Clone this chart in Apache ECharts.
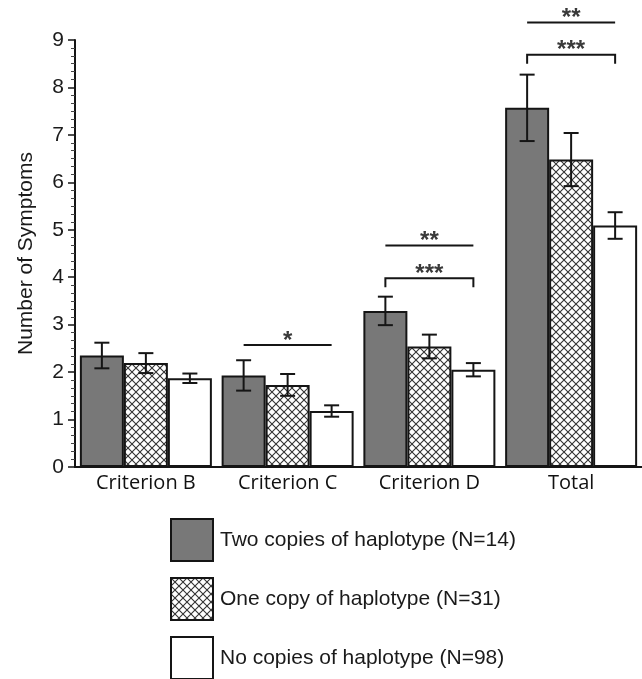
<!DOCTYPE html>
<html>
<head>
<meta charset="utf-8">
<script src="https://cdn.jsdelivr.net/npm/echarts@6/dist/echarts.min.js"></script>
<style>
  html, body { margin: 0; padding: 0; background: #fff; }
  #chart { width: 642px; height: 679px; }
</style>
</head>
<body>
<div id="chart"></div>
<script>
// categories and group means (number of symptoms)
var categories = ['Criterion B', 'Criterion C', 'Criterion D', 'Total'];
var seriesNames = [
  'Two copies of haplotype (N=14)',
  'One copy of haplotype (N=31)',
  'No copies of haplotype (N=98)'
];
var twoCopies = [2.35, 1.93, 3.29, 7.57];
var oneCopy = [2.19, 1.73, 2.54, 6.48];
var noCopies = [1.87, 1.18, 2.05, 5.09];
// error bar half-lengths
var twoErr = [0.27, 0.32, 0.30, 0.70];
var oneErr = [0.21, 0.23, 0.25, 0.56];
var noErr = [0.10, 0.12, 0.14, 0.28];
// y axis ticks
var yTicks = [0, 1, 2, 3, 4, 5, 6, 7, 8, 9];
// significance marks: category, height, text, bracket or plain line
var sigCategory = [1, 2, 2, 3, 3];
var sigHeight = [2.57, 4.67, 3.98, 9.37, 8.69];
var sigText = ['*', '**', '***', '**', '***'];
var sigBracket = [false, false, true, false, true];

var BAR_W = 44;
var INK = '#151515';

// cross hatch fill
var hatch = document.createElement('canvas');
hatch.width = 8;
hatch.height = 8;
(function () {
  var c = hatch.getContext('2d');
  c.fillStyle = '#fff';
  c.fillRect(0, 0, 8, 8);
  c.strokeStyle = '#333';
  c.lineWidth = 1.1;
  c.beginPath();
  c.moveTo(0, 0); c.lineTo(8, 8);
  c.moveTo(8, 0); c.lineTo(0, 8);
  c.stroke();
})();

var means = [twoCopies, oneCopy, noCopies];
var errs = [twoErr, oneErr, noErr];
var fills = ['#787878', { image: hatch, repeat: 'repeat' }, '#ffffff'];

var errData = [];
means.forEach(function (m, g) {
  m.forEach(function (v, i) {
    errData.push([i, v - errs[g][i], v + errs[g][i], g]);
  });
});
var sigData = sigCategory.map(function (c, i) { return [c, sigHeight[i], i]; });

var chart = echarts.init(document.getElementById('chart'));

function errRender(params, api) {
  var cat = api.value(0);
  var g = api.value(3);
  var x = api.coord([cat, 0])[0] + (g - 1) * BAR_W;
  var yLo = api.coord([cat, api.value(1)])[1];
  var yHi = api.coord([cat, api.value(2)])[1];
  var st = { stroke: INK, lineWidth: 2 };
  return {
    type: 'group',
    children: [
      { type: 'line', shape: { x1: x, y1: yHi, x2: x, y2: yLo }, style: st },
      { type: 'line', shape: { x1: x - 7.5, y1: yHi, x2: x + 7.5, y2: yHi }, style: st },
      { type: 'line', shape: { x1: x - 7.5, y1: yLo, x2: x + 7.5, y2: yLo }, style: st }
    ]
  };
}

function sigRender(params, api) {
  var cat = api.value(0);
  var idx = api.value(2);
  var p = api.coord([cat, api.value(1)]);
  var x1 = p[0] - BAR_W, x2 = p[0] + BAR_W, y = p[1];
  var st = { stroke: INK, lineWidth: 2, fill: null };
  var pts = sigBracket[idx]
    ? [[x1, y + 9], [x1, y], [x2, y], [x2, y + 9]]
    : [[x1, y], [x2, y]];
  return {
    type: 'group',
    children: [
      { type: 'polyline', shape: { points: pts }, style: st },
      {
        type: 'text',
        style: {
          text: sigText[idx], x: p[0], y: y - 4,
          align: 'center', verticalAlign: 'middle',
          font: 'bold 24px "Liberation Sans"', fill: '#3a3a3a'
        }
      }
    ]
  };
}

var barSeries = means.map(function (m, g) {
  return {
    name: seriesNames[g],
    type: 'bar',
    data: m,
    barWidth: BAR_W,
    barGap: '0%',
    itemStyle: { color: fills[g], borderColor: INK, borderWidth: 2 }
  };
});

chart.setOption({
  animation: false,
  grid: { left: 75, right: -4, top: 40, bottom: 212 },
  legend: {
    data: seriesNames,
    orient: 'vertical',
    left: 170,
    top: 518,
    height: 220,
    padding: 0,
    icon: 'rect',
    itemWidth: 42,
    itemHeight: 42,
    itemGap: 15,
    itemStyle: { borderColor: INK, borderWidth: 2 },
    textStyle: { fontFamily: 'Liberation Sans', fontSize: 21, color: '#1a1a1a', padding: [0, 0, 0, 2] }
  },
  xAxis: {
    type: 'category',
    data: categories,
    axisLine: { lineStyle: { color: INK, width: 2 } },
    axisTick: { show: false },
    axisLabel: { fontFamily: 'Open Sans', fontSize: 20, color: '#111', margin: 6 }
  },
  yAxis: {
    type: 'value',
    min: yTicks[0],
    max: yTicks[yTicks.length - 1],
    interval: 1,
    name: 'Number of Symptoms',
    nameLocation: 'middle',
    nameGap: 38,
    nameTextStyle: { fontFamily: 'Liberation Sans', fontSize: 21, color: '#1a1a1a' },
    axisLine: { show: true, lineStyle: { color: INK, width: 2 } },
    axisTick: { show: true, length: 7, lineStyle: { color: INK, width: 1.5 } },
    minorTick: { show: true, splitNumber: 6, length: 4, lineStyle: { color: '#444', width: 1 } },
    splitLine: { show: false },
    axisLabel: { fontFamily: 'Liberation Sans', fontSize: 21, color: '#1a1a1a', margin: 11 }
  },
  series: barSeries.concat([
    {
      type: 'custom',
      renderItem: errRender,
      data: errData,
      encode: { x: 0, y: [1, 2] },
      z: 10,
      silent: true
    },
    {
      type: 'custom',
      renderItem: sigRender,
      data: sigData,
      encode: { x: 0, y: 1 },
      clip: false,
      z: 10,
      silent: true
    }
  ])
});
</script>
</body>
</html>
